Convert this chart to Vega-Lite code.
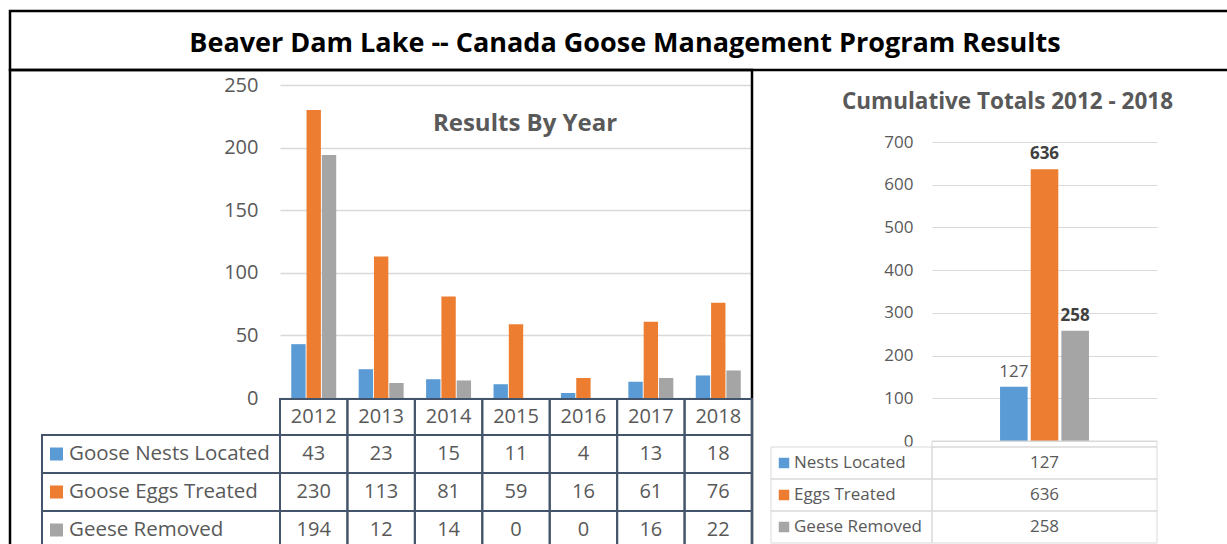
{
  "$schema": "https://vega.github.io/schema/vega-lite/v6.json",
  "width": 1227,
  "height": 544,
  "padding": 0,
  "autosize": {"type": "none"},
  "background": "white",
  "config": {"view": {"stroke": null}, "font": "Open Sans"},
  "datasets": {
    "yearly": [
      {"year": 2012, "series": "Goose Nests Located", "value": 43},
      {"year": 2012, "series": "Goose Eggs Treated", "value": 230},
      {"year": 2012, "series": "Geese Removed", "value": 194},
      {"year": 2013, "series": "Goose Nests Located", "value": 23},
      {"year": 2013, "series": "Goose Eggs Treated", "value": 113},
      {"year": 2013, "series": "Geese Removed", "value": 12},
      {"year": 2014, "series": "Goose Nests Located", "value": 15},
      {"year": 2014, "series": "Goose Eggs Treated", "value": 81},
      {"year": 2014, "series": "Geese Removed", "value": 14},
      {"year": 2015, "series": "Goose Nests Located", "value": 11},
      {"year": 2015, "series": "Goose Eggs Treated", "value": 59},
      {"year": 2015, "series": "Geese Removed", "value": 0},
      {"year": 2016, "series": "Goose Nests Located", "value": 4},
      {"year": 2016, "series": "Goose Eggs Treated", "value": 16},
      {"year": 2016, "series": "Geese Removed", "value": 0},
      {"year": 2017, "series": "Goose Nests Located", "value": 13},
      {"year": 2017, "series": "Goose Eggs Treated", "value": 61},
      {"year": 2017, "series": "Geese Removed", "value": 16},
      {"year": 2018, "series": "Goose Nests Located", "value": 18},
      {"year": 2018, "series": "Goose Eggs Treated", "value": 76},
      {"year": 2018, "series": "Geese Removed", "value": 22}
    ],
    "totals": [
      {"series": "Nests Located", "value": 127},
      {"series": "Eggs Treated", "value": 636},
      {"series": "Geese Removed", "value": 258}
    ],
    "titles": [
      {"title": "Beaver Dam Lake -- Canada Goose Management Program Results"}
    ]
  },
  "layer": [
    {
      "data": {"name": "titles"},
      "layer": [
        {
          "mark": {"type": "rect", "clip": true, "fill": "transparent", "stroke": "#000000", "strokeWidth": 2.5},
          "encoding": {
            "x": {"datum": 0, "type": "quantitative", "scale": {"domain": [0, 1], "range": [10, 1240], "nice": false, "zero": false}, "axis": null},
            "x2": {"datum": 1},
            "y": {"datum": 0, "type": "quantitative", "scale": {"domain": [0, 1], "range": [11, 70], "nice": false, "zero": false}, "axis": null},
            "y2": {"datum": 1}
          }
        },
        {
          "mark": {"type": "text", "fontSize": 27, "fontWeight": "bold", "color": "#000000", "dy": 3},
          "encoding": {
            "x": {"datum": 0.5, "type": "quantitative", "axis": null},
            "y": {"datum": 0.5, "type": "quantitative", "axis": null},
            "text": {"field": "title", "type": "nominal"}
          }
        }
      ]
    },
    {
      "data": {"name": "titles"},
      "mark": {"type": "rect", "clip": true, "fill": "transparent", "stroke": "#000000", "strokeWidth": 2.5},
      "encoding": {
        "x": {"datum": 0, "type": "quantitative", "scale": {"domain": [0, 1], "range": [10, 752], "nice": false, "zero": false}, "axis": null},
        "x2": {"datum": 1},
        "y": {"datum": 0, "type": "quantitative", "scale": {"domain": [0, 1], "range": [70, 560], "nice": false, "zero": false}, "axis": null},
        "y2": {"datum": 1}
      }
    },
    {
      "layer": [
        {
          "data": {"name": "yearly"},
          "mark": {"type": "bar"},
          "encoding": {
            "x": {"field": "year", "type": "nominal", "scale": {"range": [280, 752], "paddingInner": 0.333, "paddingOuter": 0.1667}, "axis": null},
            "xOffset": {"field": "series", "type": "nominal", "scale": {"domain": ["Goose Nests Located", "Goose Eggs Treated", "Geese Removed"], "paddingInner": 0.06}},
            "y": {
              "field": "value", "type": "quantitative",
              "scale": {"domain": [0, 250], "range": [398, 85], "nice": false},
              "axis": {"orient": "left", "offset": -280, "values": [0, 50, 100, 150, 200, 250], "domain": false, "grid": false, "ticks": true, "tickSize": -472, "tickColor": "#D9D9D9", "tickWidth": 1.5, "labelPadding": 494, "labelFontSize": 20, "labelColor": "#595959", "labelFont": "Open Sans", "title": null}
            },
            "color": {"field": "series", "type": "nominal", "scale": {"domain": ["Goose Nests Located", "Goose Eggs Treated", "Geese Removed"], "range": ["#5B9BD5", "#ED7D31", "#A5A5A5"]}, "legend": null}
          }
        },
        {
          "data": {"values": [{"label": "Results By Year"}]},
          "mark": {"type": "text", "fontSize": 24, "fontWeight": "bold", "color": "#595959", "dx": 9},
          "encoding": {
            "x": {"datum": 2015, "type": "nominal", "axis": null},
            "y": {"datum": 219, "type": "quantitative"},
            "text": {"field": "label", "type": "nominal"}
          }
        }
      ]
    },
    {
      "data": {"name": "yearly"},
      "transform": [{"filter": "datum.series == 'Goose Nests Located'"}],
      "layer": [
        {
          "mark": {"type": "rect", "fill": "transparent", "stroke": "#44546A", "strokeWidth": 2},
          "encoding": {
            "x": {"field": "year", "type": "nominal", "scale": {"range": [280, 752], "paddingInner": 0, "paddingOuter": 0}, "axis": null},
            "y": {"datum": 0, "type": "quantitative", "scale": {"domain": [0, 1], "range": [399, 435], "nice": false, "zero": false}, "axis": null},
            "y2": {"datum": 1}
          }
        },
        {
          "mark": {"type": "text", "fontSize": 20, "color": "#595959"},
          "encoding": {
            "x": {"field": "year", "type": "nominal", "axis": null},
            "y": {"datum": 0.5, "type": "quantitative", "axis": null},
            "text": {"field": "year", "type": "nominal"}
          }
        }
      ]
    },
    {
      "data": {"name": "yearly"},
      "layer": [
        {
          "mark": {"type": "rect", "clip": true, "fill": "transparent", "stroke": "#44546A", "strokeWidth": 2},
          "encoding": {
            "x": {"field": "year", "type": "nominal", "scale": {"range": [280, 752], "paddingInner": 0, "paddingOuter": 0}, "axis": null},
            "y": {"field": "series", "type": "nominal", "scale": {"domain": ["Goose Nests Located", "Goose Eggs Treated", "Geese Removed"], "range": [435, 549], "paddingInner": 0, "paddingOuter": 0}, "axis": null}
          }
        },
        {
          "mark": {"type": "text", "fontSize": 20, "color": "#595959"},
          "encoding": {
            "x": {"field": "year", "type": "nominal", "axis": null},
            "y": {"field": "series", "type": "nominal", "axis": null},
            "text": {"field": "value", "type": "quantitative"}
          }
        }
      ]
    },
    {
      "data": {"name": "yearly"},
      "transform": [{"filter": "datum.year == 2012"}],
      "layer": [
        {
          "mark": {"type": "rect", "clip": true, "fill": "transparent", "stroke": "#44546A", "strokeWidth": 2},
          "encoding": {
            "x": {"datum": 0, "type": "quantitative", "scale": {"domain": [0, 1], "range": [42, 280], "nice": false, "zero": false}, "axis": null},
            "x2": {"datum": 1},
            "y": {"field": "series", "type": "nominal", "scale": {"domain": ["Goose Nests Located", "Goose Eggs Treated", "Geese Removed"], "range": [435, 549], "paddingInner": 0, "paddingOuter": 0}, "axis": null}
          }
        },
        {
          "mark": {"type": "point", "shape": "square", "filled": true, "opacity": 1, "size": 169, "xOffset": 14.5},
          "encoding": {
            "x": {"datum": 0, "type": "quantitative", "axis": null},
            "y": {"field": "series", "type": "nominal", "axis": null},
            "color": {"field": "series", "type": "nominal", "scale": {"domain": ["Goose Nests Located", "Goose Eggs Treated", "Geese Removed"], "range": ["#5B9BD5", "#ED7D31", "#A5A5A5"]}, "legend": null}
          }
        },
        {
          "mark": {"type": "text", "align": "left", "dx": 27, "fontSize": 20.5, "color": "#595959"},
          "encoding": {
            "x": {"datum": 0, "type": "quantitative", "axis": null},
            "y": {"field": "series", "type": "nominal", "axis": null},
            "text": {"field": "series", "type": "nominal"}
          }
        }
      ]
    },
    {
      "layer": [
        {
          "data": {"name": "totals"},
          "mark": {"type": "bar"},
          "encoding": {
            "x": {"field": "series", "type": "nominal", "scale": {"domain": ["Nests Located", "Eggs Treated", "Geese Removed"], "range": [998.5, 1090.5], "paddingInner": 0.1, "paddingOuter": 0.05}, "axis": null},
            "y": {
              "field": "value", "type": "quantitative",
              "scale": {"domain": [0, 700], "range": [441, 142], "nice": false},
              "axis": {"orient": "left", "offset": -932, "values": [0, 100, 200, 300, 400, 500, 600, 700], "domain": false, "grid": false, "ticks": true, "tickSize": -225, "tickColor": "#D9D9D9", "tickWidth": 1, "labelPadding": 244, "labelFontSize": 17, "labelColor": "#595959", "labelFont": "Open Sans", "title": null}
            },
            "color": {"field": "series", "type": "nominal", "scale": {"domain": ["Nests Located", "Eggs Treated", "Geese Removed"], "range": ["#5B9BD5", "#ED7D31", "#A5A5A5"]}, "legend": null}
          }
        },
        {
          "data": {"name": "totals"},
          "transform": [{"filter": "datum.series != 'Nests Located'"}],
          "mark": {"type": "text", "fontSize": 17, "fontWeight": "bold", "color": "#404040", "baseline": "alphabetic", "dy": -10},
          "encoding": {
            "x": {"field": "series", "type": "nominal", "axis": null},
            "y": {"field": "value", "type": "quantitative"},
            "text": {"field": "value", "type": "quantitative"}
          }
        },
        {
          "data": {"name": "totals"},
          "transform": [{"filter": "datum.series == 'Nests Located'"}],
          "mark": {"type": "text", "fontSize": 17, "color": "#595959", "baseline": "alphabetic", "dy": -10},
          "encoding": {
            "x": {"field": "series", "type": "nominal", "axis": null},
            "y": {"field": "value", "type": "quantitative"},
            "text": {"field": "value", "type": "quantitative"}
          }
        },
        {
          "data": {"values": [{"label": "Cumulative Totals 2012 - 2018"}]},
          "mark": {"type": "text", "fontSize": 22.5, "fontWeight": "bold", "color": "#595959", "dx": -37},
          "encoding": {
            "x": {"datum": "Eggs Treated", "type": "nominal", "axis": null},
            "y": {"datum": 794, "type": "quantitative"},
            "text": {"field": "label", "type": "nominal"}
          }
        }
      ]
    },
    {
      "data": {"name": "titles"},
      "mark": {"type": "rect", "fill": "transparent", "stroke": "#D9D9D9", "strokeWidth": 1},
      "encoding": {
        "x": {"datum": 0, "type": "quantitative", "scale": {"domain": [0, 1], "range": [932, 1157], "nice": false, "zero": false}, "axis": null},
        "x2": {"datum": 1},
        "y": {"datum": 0, "type": "quantitative", "scale": {"domain": [0, 1], "range": [441, 447], "nice": false, "zero": false}, "axis": null},
        "y2": {"datum": 1}
      }
    },
    {
      "data": {"name": "totals"},
      "layer": [
        {
          "mark": {"type": "rect", "fill": "transparent", "stroke": "#D9D9D9", "strokeWidth": 1},
          "encoding": {
            "x": {"datum": 0, "type": "quantitative", "scale": {"domain": [0, 1], "range": [771, 932], "nice": false, "zero": false}, "axis": null},
            "x2": {"datum": 1},
            "y": {"field": "series", "type": "nominal", "scale": {"domain": ["Nests Located", "Eggs Treated", "Geese Removed"], "range": [447, 543], "paddingInner": 0, "paddingOuter": 0}, "axis": null}
          }
        },
        {
          "mark": {"type": "point", "shape": "square", "filled": true, "opacity": 1, "size": 110, "xOffset": 13},
          "encoding": {
            "x": {"datum": 0, "type": "quantitative", "axis": null},
            "y": {"field": "series", "type": "nominal", "axis": null},
            "color": {"field": "series", "type": "nominal", "scale": {"domain": ["Nests Located", "Eggs Treated", "Geese Removed"], "range": ["#5B9BD5", "#ED7D31", "#A5A5A5"]}, "legend": null}
          }
        },
        {
          "mark": {"type": "text", "align": "left", "dx": 23, "fontSize": 17, "color": "#595959"},
          "encoding": {
            "x": {"datum": 0, "type": "quantitative", "axis": null},
            "y": {"field": "series", "type": "nominal", "axis": null},
            "text": {"field": "series", "type": "nominal"}
          }
        }
      ]
    },
    {
      "data": {"name": "totals"},
      "layer": [
        {
          "mark": {"type": "rect", "fill": "transparent", "stroke": "#D9D9D9", "strokeWidth": 1},
          "encoding": {
            "x": {"datum": 0, "type": "quantitative", "scale": {"domain": [0, 1], "range": [932, 1157], "nice": false, "zero": false}, "axis": null},
            "x2": {"datum": 1},
            "y": {"field": "series", "type": "nominal", "scale": {"domain": ["Nests Located", "Eggs Treated", "Geese Removed"], "range": [447, 543], "paddingInner": 0, "paddingOuter": 0}, "axis": null}
          }
        },
        {
          "mark": {"type": "text", "fontSize": 17, "color": "#595959"},
          "encoding": {
            "x": {"datum": 0.5, "type": "quantitative", "axis": null},
            "y": {"field": "series", "type": "nominal", "axis": null},
            "text": {"field": "value", "type": "quantitative"}
          }
        }
      ]
    }
  ],
  "resolve": {
    "scale": {"x": "independent", "y": "independent", "color": "independent", "xOffset": "independent"},
    "axis": {"x": "independent", "y": "independent"}
  }
}
